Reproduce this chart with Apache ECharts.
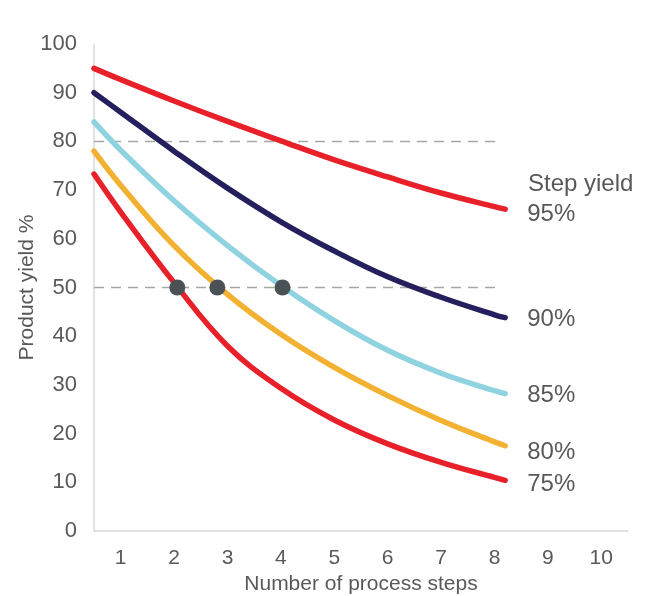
<!DOCTYPE html>
<html>
<head>
<meta charset="utf-8">
<script src="https://cdn.jsdelivr.net/npm/echarts@6/dist/echarts.min.js"></script>
<style>
html,body{margin:0;padding:0;background:#fff;}
#chart{width:670px;height:596px;}
</style>
</head>
<body>
<div id="chart"></div>
<script>
// Tick labels
var stepLabels = ['1','2','3','4','5','6','7','8','9','10'];
// x positions of sampled curve points (number of steps)
var xs = [0.5, 1, 2, 3, 4, 5, 6, 7, 8, 8.2];
// Product yield % per step yield
var y95 = [95.0, 92.7, 88.3, 84.1, 80.1, 76.2, 72.7, 69.4, 66.6, 66.1];
var y90 = [90.0, 86.0, 78.0, 70.4, 63.5, 57.5, 52.2, 48.0, 44.4, 43.8];
var y85 = [84.0, 78.2, 67.8, 58.6, 50.4, 43.2, 37.1, 32.4, 28.8, 28.2];
var y80 = [78.0, 71.0, 58.6, 48.6, 40.4, 33.6, 27.8, 22.7, 18.3, 17.5];
var y75 = [73.3, 65.5, 51.0, 38.0, 29.3, 22.8, 17.9, 14.1, 11.0, 10.4];
var seriesNames = ['95%', '90%', '85%', '80%', '75%'];
// 50% crossing points
var dotX = [2.06, 2.81, 4.03];
var dotY = [50, 50, 50];
// reference dashed lines
var refLevels = [80, 50];
var refXRange = [0.5, 8.08];

function pairs(x, y){ return x.map(function(v,i){ return [v, y[i]]; }); }

var colors = ['#e8202a', '#241f5d', '#8fd3e0', '#f2b130', '#e8202a'];
var labelOffsets = [[0, 5], [0, 2], [0, 2], [0, 7], [0, 4]];
var yields = [y95, y90, y85, y80, y75];
var font = 'Liberation Sans, Arial, sans-serif';
var textColor = '#595959';

var series = [];
refLevels.forEach(function(lv){
  series.push({
    type: 'line', xAxisIndex: 1, symbol: 'none', silent: true, z: 1,
    data: [[refXRange[0], lv], [refXRange[1], lv]],
    lineStyle: { color: '#a6a6a6', width: 1.5, type: [10, 7] }
  });
});
yields.forEach(function(ys, i){
  series.push({
    name: seriesNames[i], type: 'line', xAxisIndex: 1, symbol: 'none',
    smooth: 0.4, z: 3,
    data: pairs(xs, ys),
    lineStyle: { color: colors[i], width: 5.5, cap: 'round' },
    endLabel: { show: true, formatter: seriesNames[i], color: textColor, fontFamily: font,
                fontSize: 24, distance: 22, offset: labelOffsets[i] }
  });
});
series.push({
  type: 'scatter', xAxisIndex: 1, z: 5, symbolSize: 16,
  data: pairs(dotX, dotY),
  itemStyle: { color: '#4b5255', opacity: 1 }
});

var chart = echarts.init(document.getElementById('chart'), null, {renderer: 'canvas'});
chart.setOption({
  animation: false,
  backgroundColor: '#fff',
  grid: { left: 94, right: 42, top: 44, bottom: 65, containLabel: false, outerBoundsMode: 'none' },
  xAxis: [{
    type: 'category', data: stepLabels, boundaryGap: true,
    name: 'Number of process steps', nameLocation: 'middle', nameGap: 43, nameMoveOverlap: false,
    nameTextStyle: { color: textColor, fontFamily: font, fontSize: 21 },
    axisLine: { lineStyle: { color: '#d9d9d9', width: 1.5 } },
    axisTick: { show: false },
    axisLabel: { color: textColor, fontFamily: font, fontSize: 21, margin: 17 },
    splitLine: { show: false }
  }, {
    type: 'value', min: 0.5, max: 10.5, show: false
  }],
  yAxis: {
    type: 'value', min: 0, max: 100, interval: 10,
    name: 'Product yield %', nameLocation: 'middle', nameGap: 56, nameRotate: 90, nameMoveOverlap: false,
    nameTextStyle: { color: textColor, fontFamily: font, fontSize: 21 },
    axisLine: { show: true, lineStyle: { color: '#d9d9d9', width: 1.5 } },
    axisTick: { show: false },
    axisLabel: { color: textColor, fontFamily: font, fontSize: 22, margin: 17 },
    splitLine: { show: false }
  },
  graphic: [{
    type: 'text', left: 528, top: 172,
    style: { text: 'Step yield', fill: textColor, font: '24px ' + font }
  }],
  series: series
});
</script>
</body>
</html>
